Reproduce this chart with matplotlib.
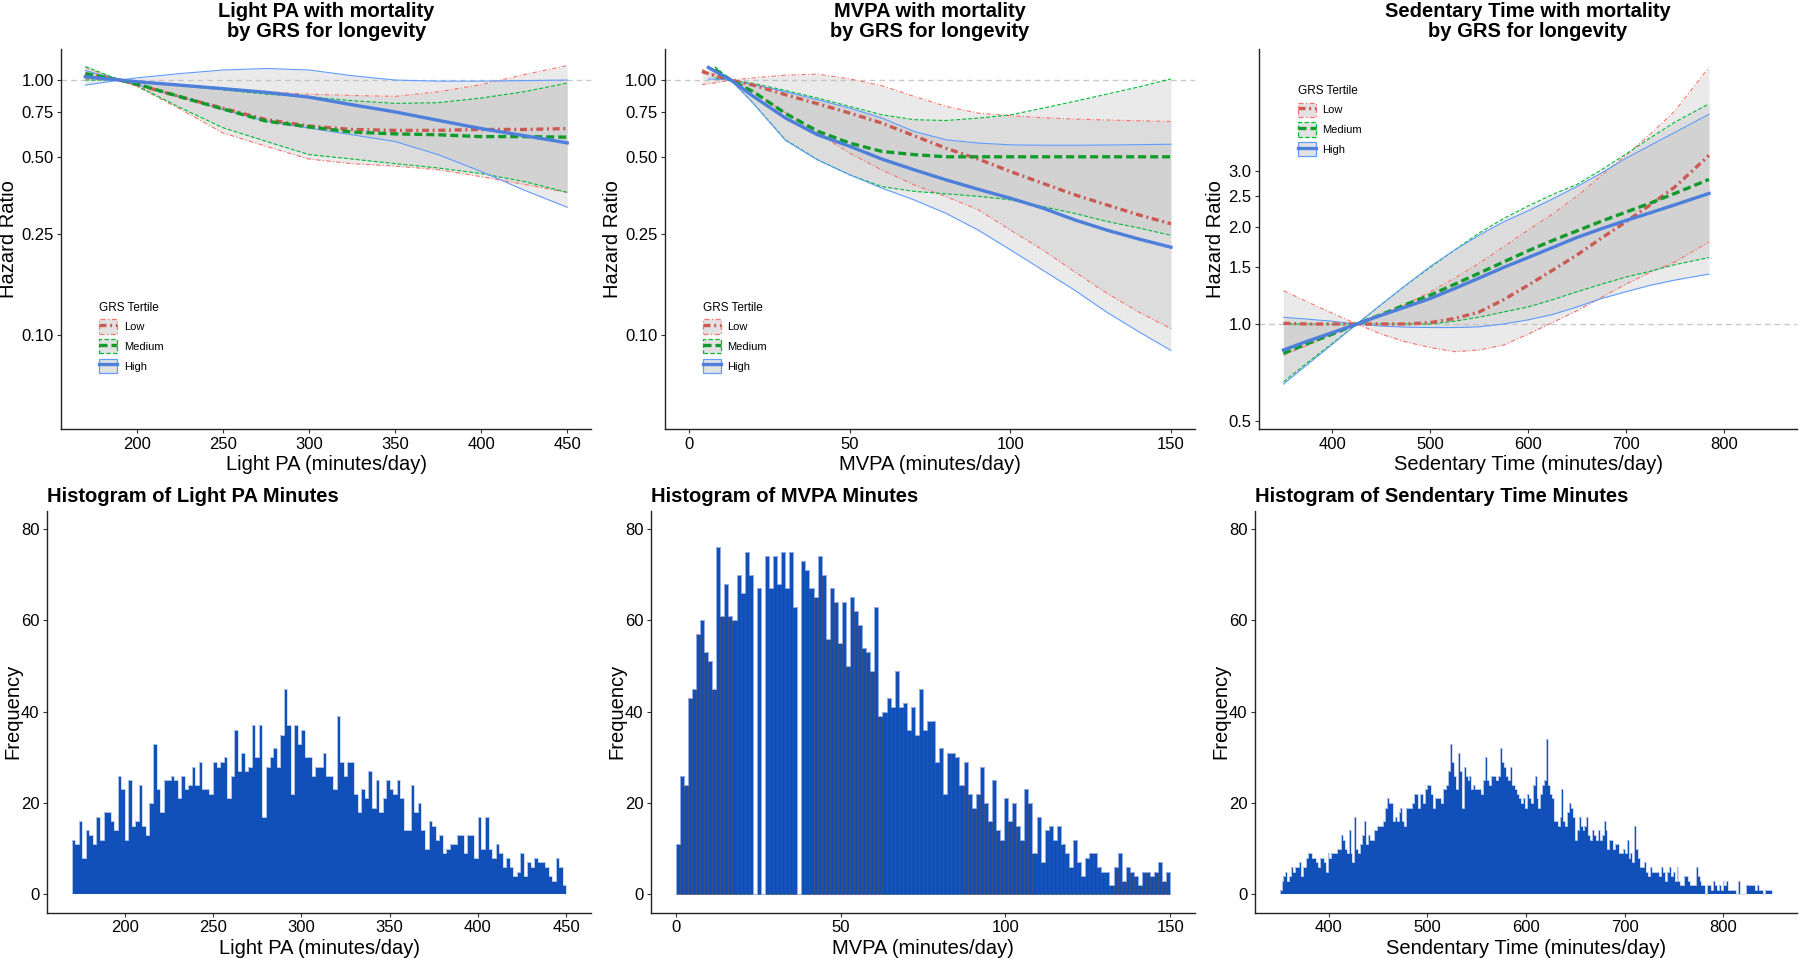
#!/usr/bin/env python3
"""Hazard ratio splines by GRS tertile (top row) and exposure histograms (bottom row)."""

import matplotlib

matplotlib.use("Agg")
import matplotlib.pyplot as plt
import numpy as np
from matplotlib.lines import Line2D
from matplotlib.patches import Rectangle
from matplotlib.ticker import NullLocator

plt.rcParams["font.family"] = ["Liberation Sans", "DejaVu Sans"]

TERTILES = ["Low", "Medium", "High"]

# ---- Light PA with mortality (hazard ratios, ref = 190 min/day) ----
LPA_X = [170, 190, 200, 225, 250, 275, 300, 325, 350, 375, 400, 425, 450]
LPA_LOW = [1.05, 1.0, 0.96, 0.86, 0.775, 0.70, 0.66, 0.64, 0.635, 0.635, 0.64, 0.64, 0.645]
LPA_LOW_A = [1.01, 1.0, 0.985, 0.955, 0.925, 0.90, 0.88, 0.87, 0.863, 0.90, 0.959, 1.05, 1.14]
LPA_LOW_B = [1.12, 1.0, 0.945, 0.77, 0.62, 0.55, 0.49, 0.47, 0.46, 0.445, 0.418, 0.39, 0.362]
LPA_MED = [1.06, 1.0, 0.965, 0.86, 0.77, 0.69, 0.655, 0.625, 0.615, 0.61, 0.60, 0.60, 0.597]
LPA_MED_A = [1.0, 1.0, 0.985, 0.95, 0.915, 0.88, 0.86, 0.83, 0.81, 0.815, 0.85, 0.90, 0.973]
LPA_MED_B = [1.13, 1.0, 0.95, 0.78, 0.65, 0.575, 0.51, 0.49, 0.47, 0.452, 0.43, 0.40, 0.363]
LPA_HIGH = [1.03, 1.0, 0.985, 0.955, 0.925, 0.895, 0.857, 0.80, 0.75, 0.695, 0.645, 0.605, 0.567]
LPA_HIGH_A = [0.955, 1.0, 1.02, 1.06, 1.095, 1.11, 1.095, 1.04, 1.0, 0.99, 0.99, 0.995, 1.0]
LPA_HIGH_B = [1.09, 1.0, 0.96, 0.86, 0.765, 0.69, 0.648, 0.61, 0.574, 0.51, 0.438, 0.37, 0.317]

# ---- MVPA with mortality (ref = 13 min/day) ----
MVPA_X_LOW = [4, 8, 13, 20, 30, 40, 50, 60, 70, 80, 90, 100, 110, 120, 130, 140, 150]
MVPA_LOW = [1.08, 1.04, 1.0, 0.955, 0.876, 0.807, 0.742, 0.678, 0.605, 0.54, 0.49, 0.438,
            0.394, 0.355, 0.324, 0.296, 0.273]
MVPA_LOW_A = [0.96, 0.975, 1.0, 1.02, 1.045, 1.055, 1.01, 0.95, 0.863, 0.788, 0.742, 0.725,
              0.712, 0.703, 0.697, 0.692, 0.688]
MVPA_LOW_B = [1.1, 1.05, 1.0, 0.90, 0.742, 0.619, 0.517, 0.444, 0.388, 0.349, 0.31, 0.258,
              0.216, 0.177, 0.146, 0.123, 0.106]
MVPA_X_MED = [8, 13, 20, 30, 40, 50, 60, 70, 80, 90, 100, 110, 120, 130, 140, 150]
MVPA_MED = [1.10, 1.0, 0.90, 0.74, 0.63, 0.566, 0.525, 0.51, 0.50, 0.50, 0.50, 0.50, 0.50,
            0.50, 0.50, 0.50]
MVPA_MED_A = [1.02, 1.0, 0.97, 0.91, 0.85, 0.788, 0.731, 0.699, 0.694, 0.709, 0.73, 0.775,
              0.825, 0.88, 0.94, 1.01]
MVPA_MED_B = [1.13, 1.0, 0.81, 0.583, 0.487, 0.425, 0.382, 0.366, 0.358, 0.35, 0.339, 0.319,
              0.30, 0.279, 0.263, 0.246]
MVPA_X_HIGH = [6, 13, 20, 30, 40, 50, 60, 70, 80, 90, 100, 110, 120, 130, 140, 150]
MVPA_HIGH = [1.12, 1.0, 0.863, 0.71, 0.61, 0.55, 0.49, 0.445, 0.406, 0.373, 0.344, 0.315,
             0.283, 0.258, 0.238, 0.221]
MVPA_HIGH_A = [1.01, 1.0, 0.959, 0.90, 0.837, 0.776, 0.71, 0.629, 0.583, 0.566, 0.557, 0.555,
               0.555, 0.556, 0.558, 0.56]
MVPA_HIGH_B = [1.13, 1.0, 0.81, 0.58, 0.486, 0.425, 0.377, 0.339, 0.30, 0.258, 0.216, 0.18,
               0.15, 0.123, 0.103, 0.087]

# ---- Sedentary time with mortality (ref = 425 min/day) ----
SED_X = [350, 375, 400, 425, 450, 475, 500, 525, 550, 575, 600, 625, 650, 675, 700, 725, 750, 785]
SED_LOW = [1.005, 1.0, 1.0, 1.0, 1.0, 1.0, 1.01, 1.04, 1.09, 1.19, 1.32, 1.47, 1.64, 1.85,
           2.08, 2.35, 2.67, 3.35]
SED_LOW_A = [0.80, 0.86, 0.93, 1.0, 1.07, 1.15, 1.26, 1.39, 1.545, 1.74, 1.96, 2.2, 2.5, 2.9,
             3.35, 3.9, 4.6, 6.3]
SED_LOW_B = [1.27, 1.17, 1.08, 1.0, 0.93, 0.88, 0.845, 0.82, 0.83, 0.86, 0.93, 1.01, 1.10,
             1.21, 1.33, 1.45, 1.56, 1.8]
SED_MED = [0.81, 0.87, 0.93, 1.0, 1.07, 1.15, 1.23, 1.33, 1.44, 1.56, 1.69, 1.82, 1.95, 2.09,
           2.23, 2.38, 2.55, 2.82]
SED_MED_A = [0.66, 0.76, 0.87, 1.0, 1.15, 1.32, 1.5, 1.7, 1.92, 2.13, 2.33, 2.53, 2.72, 3.02,
             3.38, 3.8, 4.25, 4.85]
SED_MED_B = [1.0, 1.0, 1.0, 1.0, 1.0, 1.0, 1.0, 1.02, 1.05, 1.09, 1.13, 1.19, 1.26, 1.33,
             1.40, 1.46, 1.53, 1.61]
SED_HIGH = [0.83, 0.885, 0.94, 1.0, 1.065, 1.13, 1.20, 1.29, 1.39, 1.50, 1.61, 1.73, 1.86,
            1.98, 2.1, 2.22, 2.35, 2.55]
SED_HIGH_A = [0.65, 0.75, 0.865, 1.0, 1.15, 1.32, 1.51, 1.7, 1.89, 2.08, 2.25, 2.45, 2.68,
              2.95, 3.28, 3.6, 3.95, 4.5]
SED_HIGH_B = [1.05, 1.035, 1.02, 1.0, 0.985, 0.978, 0.975, 0.975, 0.98, 1.0, 1.03, 1.07, 1.13,
              1.2, 1.26, 1.32, 1.37, 1.43]

HR_TICKS_PA = [0.10, 0.25, 0.50, 0.75, 1.00]
HR_LABELS_PA = ["0.10", "0.25", "0.50", "0.75", "1.00"]
HR_TICKS_SED = [0.5, 1.0, 1.5, 2.0, 2.5, 3.0]
HR_LABELS_SED = ["0.5", "1.0", "1.5", "2.0", "2.5", "3.0"]

# ---- histogram counts ----
LPA_RANGE = (170, 450)
LPA_COUNTS = [
    12, 11, 16, 8, 14, 13, 11, 17, 12, 18,
    18, 16, 14, 26, 23, 12, 25, 15, 16, 24,
    15, 13, 20, 33, 23, 18, 25, 25, 26, 25,
    21, 26, 23, 24, 28, 24, 29, 23, 23, 22,
    29, 28, 29, 30, 21, 26, 36, 27, 31, 27,
    28, 37, 30, 37, 17, 28, 30, 32, 28, 35,
    45, 37, 22, 37, 33, 36, 30, 30, 26, 28,
    28, 31, 26, 26, 23, 39, 29, 26, 29, 29,
    22, 18, 23, 21, 27, 19, 25, 18, 21, 25,
    23, 22, 25, 21, 14, 14, 24, 18, 20, 14,
    10, 16, 15, 12, 13, 9, 10, 11, 11, 13,
    13, 9, 13, 13, 8, 17, 10, 17, 10, 8,
    11, 9, 6, 8, 6, 4, 5, 9, 4, 7,
    6, 8, 7, 7, 6, 4, 3, 8, 6, 2,
]
MVPA_RANGE = (0, 150)
MVPA_COUNTS = [
    11, 26, 24, 43, 45, 57, 60, 53, 51, 45,
    76, 61, 68, 61, 60, 70, 66, 75, 70, 0,
    67, 0, 74, 67, 74, 68, 75, 67, 75, 63,
    0, 73, 71, 67, 65, 74, 70, 56, 67, 64,
    55, 64, 50, 65, 62, 59, 54, 53, 49, 63,
    39, 40, 43, 41, 49, 41, 42, 36, 41, 35,
    45, 36, 38, 38, 29, 32, 22, 31, 31, 30,
    24, 29, 22, 19, 22, 28, 20, 16, 25, 14,
    12, 21, 16, 20, 15, 12, 23, 20, 9, 17,
    7, 14, 15, 12, 15, 11, 9, 6, 12, 7,
    4, 8, 9, 9, 6, 5, 5, 2, 6, 9,
    3, 6, 5, 4, 2, 5, 5, 4, 5, 7,
    3, 5,
]
SED_RANGE = (350, 850)
SED_COUNTS = [
    1, 3, 4, 5, 3, 4, 6, 5, 6, 6,
    7, 4, 6, 6, 8, 9, 9, 8, 8, 7,
    6, 8, 8, 7, 5, 9, 8, 9, 9, 9,
    10, 10, 13, 12, 10, 9, 14, 9, 7, 17,
    10, 9, 11, 13, 16, 11, 13, 12, 12, 14,
    14, 15, 15, 15, 16, 19, 21, 20, 20, 16,
    17, 16, 18, 19, 16, 15, 19, 19, 19, 20,
    22, 22, 19, 22, 22, 20, 23, 24, 24, 22,
    19, 21, 21, 21, 20, 23, 23, 24, 27,
    33, 29, 26, 23, 31, 27, 19, 28, 26, 25,
    26, 23, 24, 23, 23, 23, 22, 25, 30, 25,
    24, 26, 26, 26, 25, 26, 32, 29, 28, 26,
    25, 28, 24, 24, 23, 22, 21, 20, 21, 19,
    22, 21, 20, 24, 26, 21, 19, 22, 24, 25,
    34, 24, 22, 21, 16, 16, 15, 17, 23, 16,
    15, 18, 20, 19, 17, 12, 14, 17, 15, 14,
    15, 17, 13, 12, 14, 13, 12, 14, 12, 13,
    16, 14, 10, 12, 12, 10, 11, 11, 9, 9,
    10, 9, 12, 8, 9, 7, 15, 10, 8, 6,
    6, 7, 5, 4, 6, 5, 5, 5, 5, 4,
    6, 5, 3, 5, 6, 4, 5, 3, 6, 3,
    2, 2, 4, 4, 3, 2, 2, 2, 6, 4,
    3, 2, 2, 0, 2, 2, 1, 3, 2, 1,
    2, 1, 3, 2, 3, 1, 1, 1, 1, 0,
    3, 0, 0, 0, 2, 2, 2, 2, 2, 1,
    2, 1, 1, 0, 1, 1, 1, 1,
]
FREQ_TICKS = [0, 20, 40, 60, 80]

# ---- styling ----
STYLE = {
    "Low": dict(thin="#F8766D", thick="#CC5A52",
                thin_ls=(0, (4, 2, 1, 2)), thick_ls=(0, (2.1, 1.1, 0.6, 1.1))),
    "Medium": dict(thin="#00BA38", thick="#129B2B",
                   thin_ls=(0, (3.6, 1.8)), thick_ls=(0, (2.4, 1.2))),
    "High": dict(thin="#619CFF", thick="#4D7FDB", thin_ls="-", thick_ls="-"),
}
RIBBON = "#bcbcbc"
HIST_FILL = "#1150B8"
W, H = 1800, 958


def place(fig, left, right, top, bottom):
    return fig.add_axes([left / W, 1 - bottom / H, (right - left) / W, (bottom - top) / H])


def classic(ax):
    for side in ("top", "right"):
        ax.spines[side].set_visible(False)
    for side in ("left", "bottom"):
        ax.spines[side].set_linewidth(1.0)
        ax.spines[side].set_color("#222222")
    ax.tick_params(direction="out", length=3, width=0.8, color="#333333",
                   labelsize=12, labelcolor="black", pad=2.5)


def hr_panel(ax, title, xlabel, curves, xlim, ylim, yticks, ylabels, xticks, legend_anchor):
    ax.axhline(1.0, color="#c8c8c8", lw=1.0, dashes=(4, 3), zorder=0)
    for name, (x, mid, a, b) in zip(TERTILES, curves):
        ax.fill_between(x, a, b, color=RIBBON, alpha=0.3, lw=0, zorder=1)
    for name, (x, mid, a, b) in zip(TERTILES, curves):
        st = STYLE[name]
        for edge in (a, b):
            ax.plot(x, edge, color=st["thin"], lw=0.8, linestyle=st["thin_ls"], zorder=2)
    for name, (x, mid, a, b) in zip(TERTILES, curves):
        st = STYLE[name]
        ax.plot(x, mid, color=st["thick"], lw=2.4, linestyle=st["thick_ls"], zorder=3)

    ax.set_yscale("log")
    ax.set_xlim(*xlim)
    ax.set_ylim(*ylim)
    ax.set_yticks(yticks)
    ax.set_yticklabels(ylabels)
    ax.yaxis.set_minor_locator(NullLocator())
    ax.set_xticks(xticks)
    classic(ax)
    ax.set_title(title, fontsize=14.5, fontweight="bold", pad=8.5, linespacing=1.1)
    ax.set_xlabel(xlabel, fontsize=14.5, labelpad=2.5)
    ax.set_ylabel("Hazard Ratio", fontsize=14.5, labelpad=2)

    handles = []
    for name in TERTILES:
        st = STYLE[name]
        box = Rectangle((0, 0), 1, 1, facecolor="#e2e2e2", edgecolor=st["thin"],
                        lw=0.9, linestyle=st["thin_ls"])
        line = Line2D([], [], color=st["thick"], lw=2.4, linestyle=st["thick_ls"])
        handles.append((box, line))
    ax.legend(handles, TERTILES, title="GRS Tertile", loc="upper left",
              bbox_to_anchor=legend_anchor, frameon=False, fontsize=8, title_fontsize=8.5,
              handlelength=1.6, handleheight=1.6, labelspacing=0.5, handletextpad=0.6,
              borderpad=0, borderaxespad=0, alignment="left")


def hist_panel(ax, title, xlabel, counts, rng, xlim, xticks, edge, outline):
    edges = np.linspace(rng[0], rng[1], len(counts) + 1)
    ax.bar(edges[:-1], counts, width=np.diff(edges), align="edge", color=HIST_FILL,
           edgecolor=edge, linewidth=0.4 if edge != "none" else 0)
    ax.stairs(counts, edges, color=outline, lw=0.6)
    ax.set_xlim(*xlim)
    ax.set_ylim(-4, 84)
    ax.set_xticks(xticks)
    ax.set_yticks(FREQ_TICKS)
    classic(ax)
    ax.set_title(title, fontsize=14.5, fontweight="bold", loc="left", pad=6)
    ax.set_xlabel(xlabel, fontsize=14.5, labelpad=2.5)
    ax.set_ylabel("Frequency", fontsize=14.5, labelpad=-1)


fig = plt.figure(figsize=(W / 100, H / 100), dpi=100)

ax = place(fig, 61.2, 591.3, 49.3, 429)
hr_panel(ax, "Light PA with mortality\nby GRS for longevity", "Light PA (minutes/day)",
         [(LPA_X, LPA_LOW, LPA_LOW_A, LPA_LOW_B),
          (LPA_X, LPA_MED, LPA_MED_A, LPA_MED_B),
          (LPA_X, LPA_HIGH, LPA_HIGH_A, LPA_HIGH_B)],
         (156, 464), (0.0428, 1.32), HR_TICKS_PA, HR_LABELS_PA,
         [200, 250, 300, 350, 400, 450], (0.072, 0.335))

ax = place(fig, 665, 1195, 49.3, 429)
hr_panel(ax, "MVPA with mortality\nby GRS for longevity", "MVPA (minutes/day)",
         [(MVPA_X_LOW, MVPA_LOW, MVPA_LOW_A, MVPA_LOW_B),
          (MVPA_X_MED, MVPA_MED, MVPA_MED_A, MVPA_MED_B),
          (MVPA_X_HIGH, MVPA_HIGH, MVPA_HIGH_A, MVPA_HIGH_B)],
         (-7.5, 157.5), (0.0428, 1.32), HR_TICKS_PA, HR_LABELS_PA,
         [0, 50, 100, 150], (0.072, 0.335))

ax = place(fig, 1259, 1797, 49.3, 429)
hr_panel(ax, "Sedentary Time with mortality\nby GRS for longevity", "Sedentary Time (minutes/day)",
         [(SED_X, SED_LOW, SED_LOW_A, SED_LOW_B),
          (SED_X, SED_MED, SED_MED_A, SED_MED_B),
          (SED_X, SED_HIGH, SED_HIGH_A, SED_HIGH_B)],
         (325, 875), (0.471, 7.17), HR_TICKS_SED, HR_LABELS_SED,
         [400, 500, 600, 700, 800], (0.072, 0.906))

ax = place(fig, 47, 591, 510.7, 912.7)
hist_panel(ax, "Histogram of Light PA Minutes", "Light PA (minutes/day)", LPA_COUNTS,
           LPA_RANGE, (156, 464), [200, 250, 300, 350, 400, 450], "none", "#c9d6f2")

ax = place(fig, 651, 1195, 510.7, 912.7)
hist_panel(ax, "Histogram of MVPA Minutes", "MVPA (minutes/day)", MVPA_COUNTS,
           MVPA_RANGE, (-7.5, 157.5), [0, 50, 100, 150], "#3d4763", "#9fb8ee")

ax = place(fig, 1255, 1797, 510.7, 912.7)
hist_panel(ax, "Histogram of Sendentary Time Minutes", "Sendentary Time (minutes/day)",
           SED_COUNTS, SED_RANGE, (325, 875), [400, 500, 600, 700, 800], "none", "#c9d6f2")

fig.savefig("out.png", dpi=100)
